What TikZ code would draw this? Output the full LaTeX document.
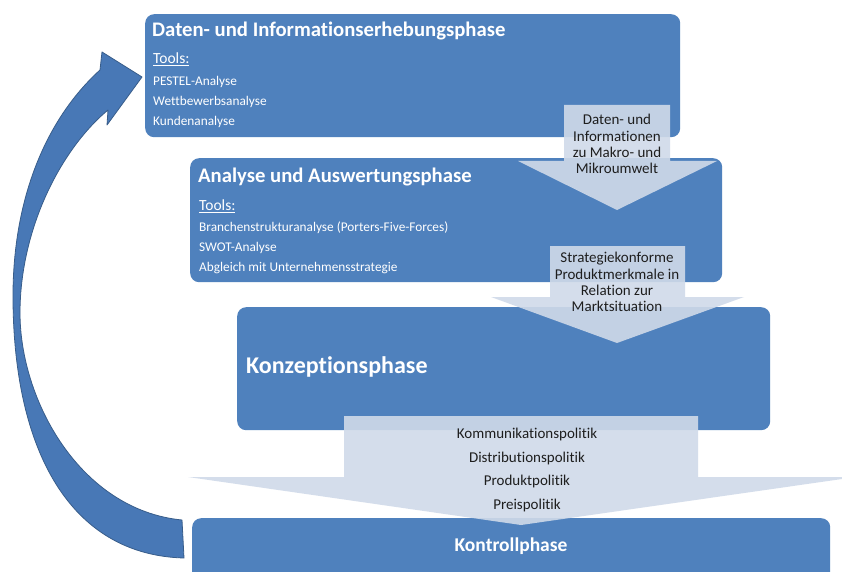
\documentclass[tikz,border=0pt]{standalone}
\usepackage{fontspec}
\setmainfont{Carlito}[Ligatures=NoCommon, RawFeature={-liga;-clig;-dlig}]
\definecolor{boxblue}{HTML}{4F81BD}
\definecolor{flowfill}{HTML}{D0DAE9}
\definecolor{loopblue}{HTML}{4878B6}
\definecolor{loopedge}{HTML}{385D8A}
\definecolor{darktext}{HTML}{1E1E1E}
\tikzset{
  phase/.style={fill=boxblue, rounded corners=9pt, anchor=north west, inner sep=0pt},
  phasetitle/.style={text=white, font=\fontsize{20.7}{24}\selectfont\bfseries, anchor=west, inner sep=0pt},
  toolhead/.style={text=white, font=\fontsize{15.5}{18}\selectfont, anchor=west, inner sep=0pt},
  toolitem/.style={text=white, font=\fontsize{13.3}{15}\selectfont, anchor=west, inner sep=0pt},
  flowarrow/.style={fill=flowfill, fill opacity=0.9},
  flowtext/.style={text=darktext, align=center, inner sep=0pt, font=\fontsize{15}{16.2}\selectfont},
  looparrow/.style={fill=loopblue, draw=loopedge, line width=0.8pt, line join=round}
}
\begin{document}
\begin{tikzpicture}[x=1pt,y=-1pt]
\clip (0,0) rectangle (842,572);
\fill[white] (0,0) rectangle (842,572);

% phase boxes
\node[phase, minimum width=535pt, minimum height=123pt] (p1) at (145,14) {};
\node[phase, minimum width=532pt, minimum height=124pt] (p2) at (190,158) {};
\node[phase, minimum width=533pt, minimum height=123pt] (p3) at (237,307) {};
\node[phase, minimum width=638pt, minimum height=90pt] (p4) at (192,518) {};

% box 1 contents
\node[phasetitle] (t1) at (152,31) {Daten- und Informationserhebungsphase};
\node[toolhead] (h1) at (153,59) {\underline{Tools:}};
\node[toolitem] (i11) at (153,82) {PESTEL-Analyse};
\node[toolitem] (i12) at (153,102) {Wettbewerbsanalyse};
\node[toolitem] (i13) at (153,122) {Kundenanalyse};

% box 2 contents
\node[phasetitle] (t2) at (198,177) {Analyse und Auswertungsphase};
\node[toolhead] (h2) at (199,206) {\underline{Tools:}};
\node[toolitem] (i21) at (199,228) {Branchenstrukturanalyse (Porters-Five-Forces)};
\node[toolitem] (i22) at (199,248) {SWOT-Analyse};
\node[toolitem] (i23) at (199,268) {Abgleich mit Unternehmensstrategie};

% box 3 and 4 titles
\node[phasetitle, font=\fontsize{24}{28}\selectfont\bfseries] (t3) at (246,367) {Konzeptionsphase};
\node[phasetitle, anchor=center, font=\fontsize{19.5}{23}\selectfont\bfseries] (t4) at (511,546) {Kontrollphase};

% block arrows between the phases
\path[flowarrow] (564,105) -- (670,105) -- (670,161) -- (717,161) -- (617,210)
  -- (518,161) -- (564,161) -- cycle;
\path[flowarrow] (550,246) -- (685,246) -- (685,297) -- (744,297) -- (617,343)
  -- (491,297) -- (550,297) -- cycle;
\path[flowarrow] (344,416) -- (698,416) -- (698,477) -- (856,477) -- (521,525)
  -- (188,477) -- (344,477) -- cycle;

\node[flowtext] (f1) at (617,144) {Daten- und\\Informationen\\zu Makro- und\\Mikroumwelt};
\node[flowtext] (f2) at (617,282) {Strategiekonforme\\Produktmerkmale in\\Relation zur\\Marktsituation};
\node[flowtext, font=\fontsize{15}{23.6}\selectfont] (f3) at (527,470)
  {Kommunikationspolitik\\Distributionspolitik\\Produktpolitik\\Preispolitik};

% feedback loop from the control phase back to data collection
\path[looparrow]
  (184,558) .. controls (70,555) and (13,450) .. (13,296)
  .. controls (13,200) and (45,120) .. (100,70)
  -- (102,52) -- (142,77) -- (107,125) -- (108,110)
  .. controls (60,150) and (20,230) .. (20,313)
  .. controls (20,400) and (80,510) .. (182,520)
  -- cycle;
\end{tikzpicture}
\end{document}
